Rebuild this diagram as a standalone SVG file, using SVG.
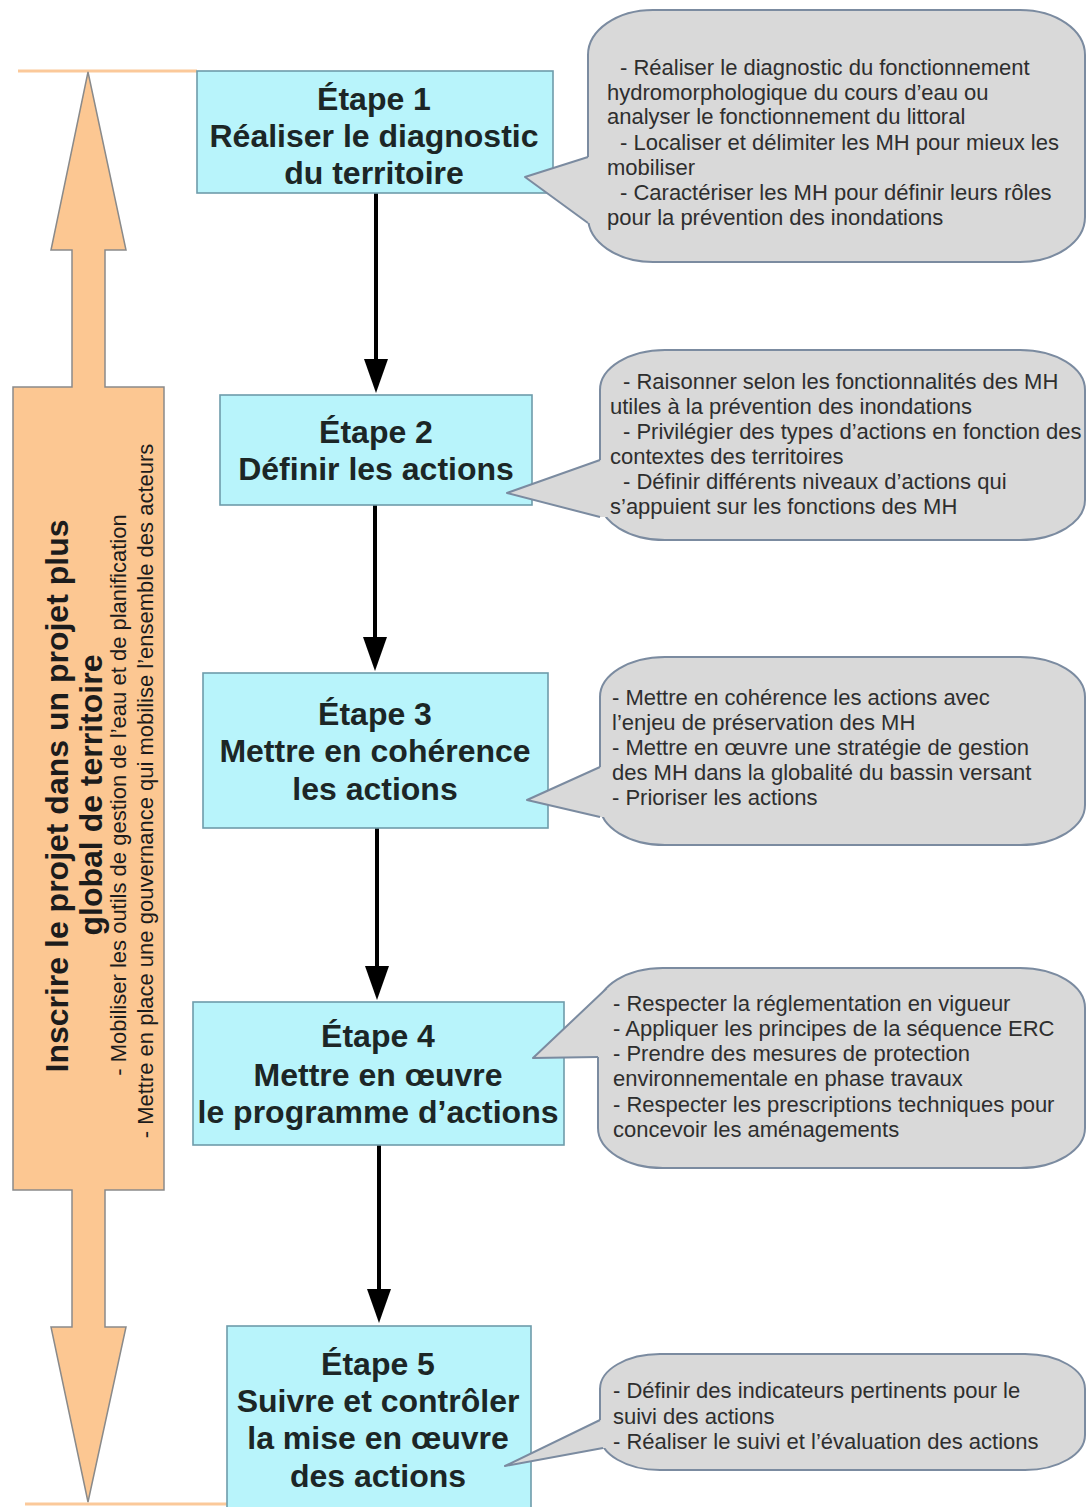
<svg xmlns="http://www.w3.org/2000/svg" width="1088" height="1507" viewBox="0 0 1088 1507">
<style>
.box{fill:#b8f4fb;stroke:#6e9cab;stroke-width:1.6}
.bt{font-family:"Liberation Sans",Arial,sans-serif;font-weight:bold;font-size:32px;fill:#1c2626;text-anchor:middle}
.co{fill:#d9d9d9;stroke:#7b8ba0;stroke-width:2}
.cof{fill:#d9d9d9;stroke:none}
.col{fill:none;stroke:#7b8ba0;stroke-width:2;stroke-linejoin:round}
.ct{font-family:"Liberation Sans",Arial,sans-serif;font-size:22px;fill:#2e2e2e}
.conn{stroke:#000;stroke-width:4;fill:none}
.rot{font-family:"Liberation Sans",Arial,sans-serif;fill:#1c1c1c;text-anchor:middle}
</style>
<defs>
<marker id="ah" markerUnits="userSpaceOnUse" viewBox="0 0 34 24" markerWidth="34" markerHeight="24" refX="24" refY="12" orient="auto">
<path d="M0,0 L34,12 L0,24 Z" fill="#000"/>
</marker>
</defs>
<rect width="1088" height="1507" fill="#ffffff"/>

<g id="frame-lines">
<line x1="18" y1="71" x2="197" y2="71" stroke="#fbc99a" stroke-width="3"/>
<line x1="25" y1="1504" x2="227" y2="1504" stroke="#fbc99a" stroke-width="3"/>
</g>

<g id="scope-arrow">
<path d="M88,72 L126,250 L105,250 L105,387 L164,387 L164,1190 L105,1190 L105,1327 L126,1327 L88,1502 L51,1327 L72,1327 L72,1190 L13,1190 L13,387 L72,387 L72,250 L51,250 Z" fill="#fcc792" stroke="#8a8a8a" stroke-width="1.5"/>
<text class="rot" font-weight="bold" font-size="32" transform="translate(68,796) rotate(-90)">Inscrire le projet dans un projet plus</text>
<text class="rot" font-weight="bold" font-size="32" transform="translate(102,795) rotate(-90)">global de territoire</text>
<text class="rot" font-size="22" transform="translate(126,795) rotate(-90)">- Mobiliser les outils de gestion de l’eau et de planification</text>
<text class="rot" font-size="22" transform="translate(153,791) rotate(-90)">- Mettre en place une gouvernance qui mobilise l’ensemble des acteurs</text>
</g>

<g id="connectors">
<line class="conn" x1="376" y1="193" x2="376" y2="383" marker-end="url(#ah)"/>
<line class="conn" x1="375" y1="505" x2="375" y2="661" marker-end="url(#ah)"/>
<line class="conn" x1="377" y1="828" x2="377" y2="990" marker-end="url(#ah)"/>
<line class="conn" x1="379" y1="1145" x2="379" y2="1313" marker-end="url(#ah)"/>
</g>

<g id="step1">
<rect class="box" x="197" y="71" width="356" height="122"/>
<text class="bt" x="374" y="110">Étape 1</text>
<text class="bt" x="374" y="147">Réaliser le diagnostic</text>
<text class="bt" x="374" y="184">du territoire</text>
</g>
<g id="step2">
<rect class="box" x="220" y="395" width="312" height="110"/>
<text class="bt" x="376" y="443">Étape 2</text>
<text class="bt" x="376" y="480">Définir les actions</text>
</g>
<g id="step3">
<rect class="box" x="203" y="673" width="345" height="155"/>
<text class="bt" x="375" y="725">Étape 3</text>
<text class="bt" x="375" y="762">Mettre en cohérence</text>
<text class="bt" x="375" y="800">les actions</text>
</g>
<g id="step4">
<rect class="box" x="193" y="1002" width="371" height="143"/>
<text class="bt" x="378" y="1047">Étape 4</text>
<text class="bt" x="378" y="1086">Mettre en œuvre</text>
<text class="bt" x="378" y="1123">le programme d’actions</text>
</g>
<g id="step5">
<rect class="box" x="227" y="1326" width="304" height="190"/>
<text class="bt" x="378" y="1375">Étape 5</text>
<text class="bt" x="378" y="1412">Suivre et contrôler</text>
<text class="bt" x="378" y="1449">la mise en œuvre</text>
<text class="bt" x="378" y="1487">des actions</text>
</g>

<g id="note1">
<rect class="co" x="588" y="10" width="497" height="252" rx="65" ry="45"/>
<polygon class="cof" points="588,157 525,177 588,223 596,223 596,157"/>
<polyline class="col" points="588,157 525,177 588,223"/>
<text class="ct" x="620" y="75">- Réaliser le diagnostic du fonctionnement</text>
<text class="ct" x="607" y="100">hydromorphologique du cours d’eau ou</text>
<text class="ct" x="607" y="124">analyser le fonctionnement du littoral</text>
<text class="ct" x="620" y="150">- Localiser et délimiter les MH pour mieux les</text>
<text class="ct" x="607" y="175">mobiliser</text>
<text class="ct" x="620" y="200">- Caractériser les MH pour définir leurs rôles</text>
<text class="ct" x="607" y="225">pour la prévention des inondations</text>
</g>
<g id="note2">
<rect class="co" x="600" y="350" width="485" height="190" rx="65" ry="40"/>
<polygon class="cof" points="600,460 507,493 600,517 608,517 608,460"/>
<polyline class="col" points="600,460 507,493 600,517"/>
<text class="ct" x="623" y="389">- Raisonner selon les fonctionnalités des MH</text>
<text class="ct" x="610" y="414">utiles à la prévention des inondations</text>
<text class="ct" x="623" y="439">- Privilégier des types d’actions en fonction des</text>
<text class="ct" x="610" y="464">contextes des territoires</text>
<text class="ct" x="623" y="489">- Définir différents niveaux d’actions qui</text>
<text class="ct" x="610" y="514">s’appuient sur les fonctions des MH</text>
</g>
<g id="note3">
<rect class="co" x="600" y="657" width="485" height="188" rx="65" ry="40"/>
<polygon class="cof" points="600,767 527,800 600,817 608,817 608,767"/>
<polyline class="col" points="600,767 527,800 600,817"/>
<text class="ct" x="612" y="705">- Mettre en cohérence les actions avec</text>
<text class="ct" x="612" y="730">l’enjeu de préservation des MH</text>
<text class="ct" x="612" y="755">- Mettre en œuvre une stratégie de gestion</text>
<text class="ct" x="612" y="780">des MH dans la globalité du bassin versant</text>
<text class="ct" x="612" y="805">- Prioriser les actions</text>
</g>
<g id="note4">
<rect class="co" x="598" y="968" width="487" height="200" rx="65" ry="40"/>
<polygon class="cof" points="607,988 533,1058 598,1057 604,1057 604,1000 612,988"/>
<polyline class="col" points="607,988 533,1058 598,1057"/>
<text class="ct" x="613" y="1011">- Respecter la réglementation en vigueur</text>
<text class="ct" x="613" y="1036">- Appliquer les principes de la séquence ERC</text>
<text class="ct" x="613" y="1061">- Prendre des mesures de protection</text>
<text class="ct" x="613" y="1086">environnementale en phase travaux</text>
<text class="ct" x="613" y="1112">- Respecter les prescriptions techniques pour</text>
<text class="ct" x="613" y="1137">concevoir les aménagements</text>
</g>
<g id="note5">
<rect class="co" x="600" y="1354" width="485" height="116" rx="60" ry="35"/>
<polygon class="cof" points="600,1420 505,1466 603,1448 610,1448 610,1420"/>
<polyline class="col" points="600,1420 505,1466 603,1448"/>
<text class="ct" x="613" y="1398">- Définir des indicateurs pertinents pour le</text>
<text class="ct" x="613" y="1424">suivi des actions</text>
<text class="ct" x="613" y="1449">- Réaliser le suivi et l’évaluation des actions</text>
</g>
</svg>
